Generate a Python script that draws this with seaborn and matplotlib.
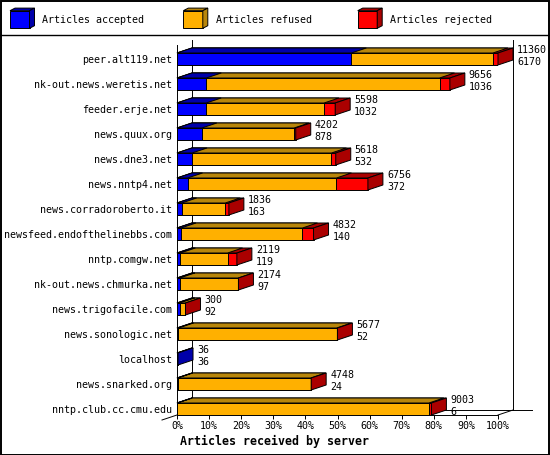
import numpy as np
import pandas as pd
import matplotlib
matplotlib.use("Agg")
import matplotlib.pyplot as plt
from matplotlib.patches import Polygon, Rectangle
from matplotlib.lines import Line2D
import seaborn as sns

# ---------------- data ----------------
hosts = [
    "peer.alt119.net",
    "nk-out.news.weretis.net",
    "feeder.erje.net",
    "news.quux.org",
    "news.dne3.net",
    "news.nntp4.net",
    "news.corradoroberto.it",
    "newsfeed.endofthelinebbs.com",
    "nntp.comgw.net",
    "nk-out.news.chmurka.net",
    "news.trigofacile.com",
    "news.sonologic.net",
    "localhost",
    "news.snarked.org",
    "nntp.club.cc.cmu.edu",
]
offered = [11360, 9656, 5598, 4202, 5618, 6756, 1836, 4832, 2119, 2174, 300, 5677, 36, 4748, 9003]
accepted = [6170, 1036, 1032, 878, 532, 372, 163, 140, 119, 97, 92, 52, 36, 24, 6]
refused = [5010, 8254, 4171, 3264, 4933, 5271, 1543, 4300, 1671, 2067, 200, 5595, 0, 4704, 8907]
rejected = [180, 366, 395, 60, 153, 1113, 130, 392, 329, 10, 8, 30, 0, 20, 90]

series_names = ["Articles accepted", "Articles refused", "Articles rejected"]
front_colors = ["#0000FF", "#FFB000", "#FF0000"]
dark_colors = ["#0000AA", "#B8860B", "#AA0000"]
tick_values = [0, 10, 20, 30, 40, 50, 60, 70, 80, 90, 100]
tick_labels = ["0%", "10%", "20%", "30%", "40%", "50%", "60%", "70%", "80%", "90%", "100%"]
x_title = "Articles received by server"

# ---------------- figure ----------------
MONO = "DejaVu Sans Mono"
plt.rcParams["font.family"] = [MONO]
W, H, DPI = 550, 455, 100
fig = plt.figure(figsize=(W / DPI, H / DPI), dpi=DPI)
fig.patch.set_facecolor("white")

AX_L, AX_R, AX_T, AX_B = 177, 498, 45, 415
ax = fig.add_axes([AX_L / W, 1 - AX_B / H, (AX_R - AX_L) / W, (AX_B - AX_T) / H])
ax.patch.set_alpha(0)

scale = 100.0 / max(offered)
acc = np.array(accepted, float)
ref = np.array(refused, float)
rej = np.array(rejected, float)
df = pd.DataFrame({
    "host": hosts,
    "acc": acc * scale,
    "accref": (acc + ref) * scale,
    "total": (acc + ref + rej) * scale,
})

BAR_H = 0.48
LW = 0.7
layers = [("total", 2, 2.0), ("accref", 1, 2.2), ("acc", 0, 2.4)]
for col, k, z in layers:
    sns.barplot(data=df, x=col, y="host", orient="h", color=front_colors[k],
                saturation=1, width=BAR_H, edgecolor="black", linewidth=LW,
                errorbar=None, zorder=z, ax=ax)

YTOP, YBOT = -0.56, 14.24
ax.set_xlim(0, 100)
ax.set_ylim(YBOT, YTOP)

# depth of the 3D effect, converted from pixels into data units
px_per_x = (AX_R - AX_L) / 100.0
px_per_y = (AX_B - AX_T) / (YBOT - YTOP)
dx = 15 / px_per_x
dy = 5 / px_per_y

# top faces
for col, k, z in layers:
    for i, c in enumerate(df[col]):
        yt = i - BAR_H / 2
        ax.add_patch(Polygon([(0, yt), (c, yt), (c + dx, yt - dy), (dx, yt - dy)],
                             closed=True, facecolor=dark_colors[k], edgecolor="black",
                             linewidth=LW, zorder=z + 0.1, clip_on=False))

# side faces (colour of last non-empty segment)
for i in range(len(hosts)):
    vals = [accepted[i], refused[i], rejected[i]]
    k = max(j for j in range(3) if vals[j] > 0)
    c = df["total"][i]
    yt, yb = i - BAR_H / 2, i + BAR_H / 2
    ax.add_patch(Polygon([(c, yt), (c + dx, yt - dy), (c + dx, yb - dy), (c, yb)],
                         closed=True, facecolor=dark_colors[k], edgecolor="black",
                         linewidth=LW, zorder=2.6, clip_on=False))

# walls / floor
line_kw = dict(color="black", linewidth=LW, zorder=1, clip_on=False)
ax.plot([dx, dx], [YBOT - dy, YTOP - dy], **line_kw)
ax.plot([100 + dx, 100 + dx], [YBOT - dy, YTOP - dy], **line_kw)
ax.plot([-dx, dx], [YBOT + dy, YBOT - dy], **line_kw)
ax.plot([100, 100 + dx], [YBOT, YBOT - dy], **line_kw)
ax.plot([dx, 100 + dx + 19 / px_per_x], [YBOT - dy, YBOT - dy], **line_kw)

# value labels
for i in range(len(hosts)):
    xe = df["total"][i] + dx
    ax.annotate(str(offered[i]), xy=(xe, i), xytext=(4, 8.7), textcoords="offset pixels",
                ha="left", va="center", fontsize=7.2, family=MONO, annotation_clip=False)
    ax.annotate(str(accepted[i]), xy=(xe, i), xytext=(4, -2.8), textcoords="offset pixels",
                ha="left", va="center", fontsize=7.2, family=MONO, annotation_clip=False)

# axes styling
for s in ["top", "right"]:
    ax.spines[s].set_visible(False)
for s in ["left", "bottom"]:
    ax.spines[s].set_color("black")
    ax.spines[s].set_linewidth(LW)
ax.set_xticks(tick_values)
ax.set_xticklabels(tick_labels)
ax.tick_params(axis="x", direction="out", length=2.9, width=LW, pad=1.5,
               labelsize=7.2, colors="black")
ax.tick_params(axis="y", length=0, pad=3.6, labelsize=7.2, colors="black")
ax.set_xlabel("")
ax.set_ylabel("")

fig.text(0.5, 1 - 441.7 / H, x_title, ha="center", va="center",
         fontsize=8.4, fontweight="bold", family=MONO)

# legend
lax = fig.add_axes([0, 1 - 35 / H, 1, 35 / H])
lax.set_xlim(0, W)
lax.set_ylim(35, 0)
lax.axis("off")
for k, x0 in enumerate([10, 183.3, 357.7]):
    fw, fh, ldx, ldy, y0 = 19.5, 17.6, 5, 2.6, 10.7
    lax.add_patch(Rectangle((x0, y0), fw, fh, facecolor=front_colors[k],
                            edgecolor="black", linewidth=LW))
    lax.add_patch(Polygon([(x0, y0), (x0 + fw, y0), (x0 + fw + ldx, y0 - ldy), (x0 + ldx, y0 - ldy)],
                          closed=True, facecolor=dark_colors[k], edgecolor="black", linewidth=LW))
    lax.add_patch(Polygon([(x0 + fw, y0), (x0 + fw + ldx, y0 - ldy), (x0 + fw + ldx, y0 + fh - ldy), (x0 + fw, y0 + fh)],
                          closed=True, facecolor=dark_colors[k], edgecolor="black", linewidth=LW))
    lax.text(x0 + 32.3, 20, series_names[k], ha="left", va="center", fontsize=7.2, family=MONO)

# separator and border
fig.add_artist(Line2D([0, 1], [1 - 35 / H, 1 - 35 / H], transform=fig.transFigure,
                      color="black", linewidth=1.0))
fig.add_artist(Rectangle((0.5 / W, 0.5 / H), 1 - 1.5 / W, 1 - 1.5 / H, transform=fig.transFigure,
                         fill=False, edgecolor="black", linewidth=1.4))

fig.savefig("out.png", dpi=DPI)
